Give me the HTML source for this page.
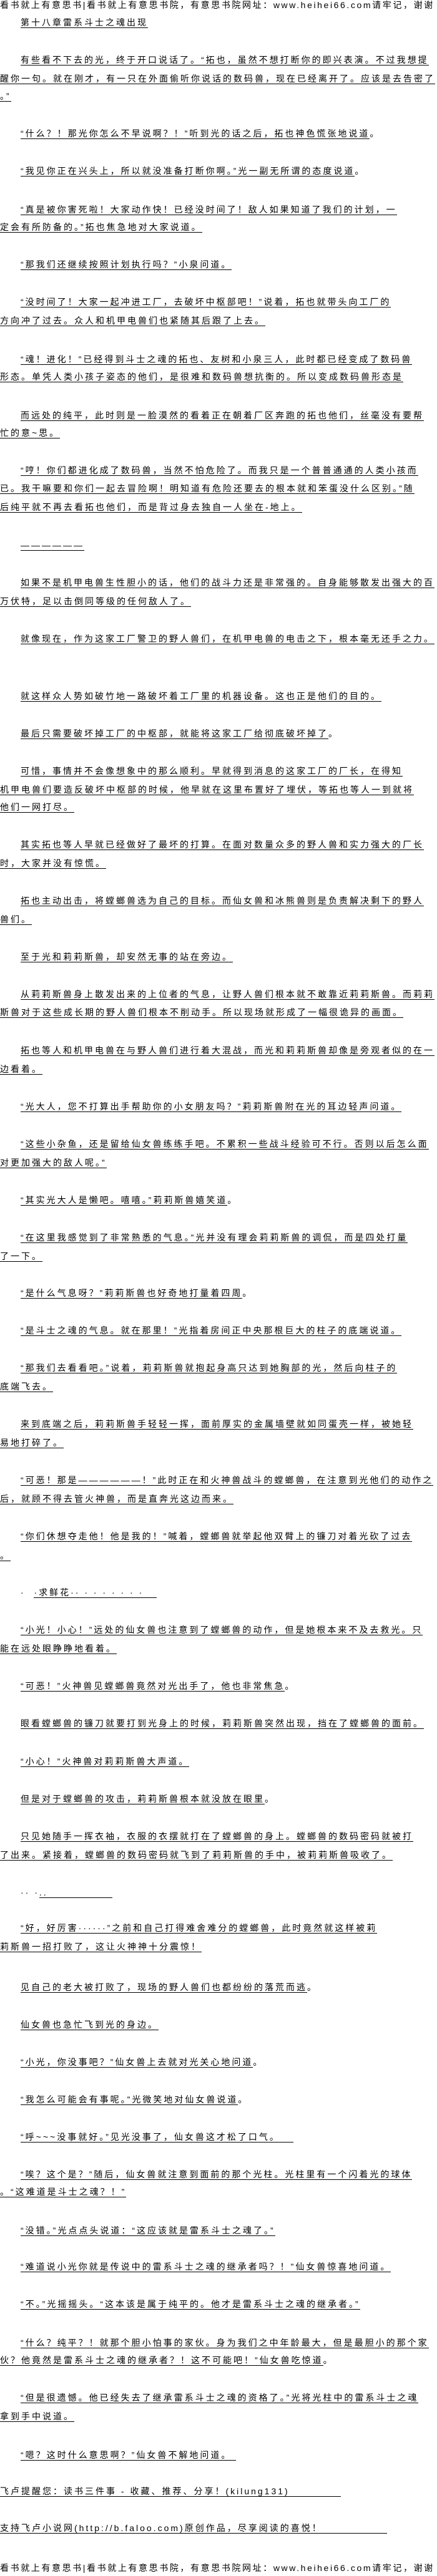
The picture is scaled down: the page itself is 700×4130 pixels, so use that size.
<!DOCTYPE html>
<html><head><meta charset="utf-8">
<style>
html,body{margin:0;padding:0;background:#fff;}
body{width:700px;height:4130px;position:relative;overflow:hidden;font-family:"Liberation Sans","Noto Sans CJK SC","WenQuanYi Zen Hei",sans-serif;color:#000;}
p{position:absolute;margin:0;white-space:nowrap;font-size:14px;letter-spacing:3px;line-height:15px;left:0;}
p span{border-bottom:1px solid #000;display:inline-block;line-height:15px;}
p.i{left:33px;}
.h{position:absolute;left:0;white-space:nowrap;font-size:14px;letter-spacing:2.6px;line-height:16px;}
</style></head><body>
<div class="h" style="top:0px">看书就上有意思书|看书就上有意思书院，有意思书院网址：www.heihei66.com请牢记，谢谢</div>
<p class="i" style="top:29px"><span>第十八章雷系斗士之魂出现</span></p>

<p class="i" style="top:89px"><span>有些看不下去的光，终于开口说话了。“拓也，虽然不想打断你的即兴表演。不过我想提</span></p>
<p style="top:119px"><span>醒你一句。就在刚才，有一只在外面偷听你说话的数码兽，现在已经离开了。应该是去告密了</span></p>
<p style="top:147px"><span>。”</span></p>

<p class="i" style="top:207px"><span>“什么？！那光你怎么不早说啊？！”听到光的话之后，拓也神色慌张地说道</span>。</p>
<p class="i" style="top:267px"><span>“我见你正在兴头上，所以就没准备打断你啊。”光一副无所谓的态度说道</span>。</p>

<p class="i" style="top:329px"><span>“真是被你害死啦！大家动作快！已经没时间了！敌人如果知道了我们的计划，一</span></p>
<p style="top:357px"><span>定会有所防备的。”拓也焦急地对大家说道。</span></p>
<p class="i" style="top:417px"><span>“那我们还继续按照计划执行吗？”小泉问道。</span></p>
<p class="i" style="top:477px"><span>“没时间了！大家一起冲进工厂，去破坏中枢部吧！”说着，拓也就带头向工厂的</span></p>
<p style="top:507px"><span>方向冲了过去。众人和机甲电兽们也紧随其后跟了上去。</span></p>
<p class="i" style="top:569px"><span>“魂！进化！”已经得到斗士之魂的拓也、友树和小泉三人，此时都已经变成了数码兽</span></p>
<p style="top:597px"><span>形态。单凭人类小孩子姿态的他们，是很难和数码兽想抗衡的。所以变成数码兽形态是</span></p>

<p class="i" style="top:659px"><span>而远处的纯平，此时则是一脸漠然的看着正在朝着厂区奔跑的拓也他们，丝毫没有要帮</span></p>
<p style="top:687px"><span>忙的意~思。</span></p>
<p class="i" style="top:747px"><span>“哼！你们都进化成了数码兽，当然不怕危险了。而我只是一个普普通通的人类小孩而</span></p>
<p style="top:776px"><span>已。我干嘛要和你们一起去冒险啊！明知道有危险还要去的根本就和笨蛋没什么区别。”随</span></p>
<p style="top:806px"><span>后纯平就不再去看拓也他们，而是背过身去独自一人坐在-地上。</span></p>
<p class="i" style="top:867px"><span>——————</span></p>
<p class="i" style="top:927px"><span>如果不是机甲电兽生性胆小的话，他们的战斗力还是非常强的。自身能够散发出强大的百</span></p>
<p style="top:957px"><span>万伏特，足以击倒同等级的任何敌人了。</span></p>

<p class="i" style="top:1017px"><span>就像现在，作为这家工厂警卫的野人兽们，在机甲电兽的电击之下，根本毫无还手之力。</span></p>
<p class="i" style="top:1109px"><span>就这样众人势如破竹地一路破坏着工厂里的机器设备。这也正是他们的目的。</span></p>
<p class="i" style="top:1169px"><span>最后只需要破坏掉工厂的中枢部，就能将这家工厂给彻底破坏掉了</span>。</p>
<p class="i" style="top:1229px"><span>可惜，事情并不会像想象中的那么顺利。早就得到消息的这家工厂的厂长，在得知</span></p>
<p style="top:1259px"><span>机甲电兽们要造反破坏中枢部的时候，他早就在这里布置好了埋伏，等拓也等人一到就将</span></p>
<p style="top:1287px"><span>他们一网打尽。</span></p>
<p class="i" style="top:1347px"><span>其实拓也等人早就已经做好了最坏的打算。在面对数量众多的野人兽和实力强大的厂长</span></p>
<p style="top:1377px"><span>时，大家并没有惊慌。</span></p>
<p class="i" style="top:1437px"><span>拓也主动出击，将螳螂兽选为自己的目标。而仙女兽和冰熊兽则是负责解决剩下的野人</span></p>
<p style="top:1467px"><span>兽们。</span></p>
<p class="i" style="top:1527px"><span>至于光和莉莉斯兽，却安然无事的站在旁边。</span></p>
<p class="i" style="top:1587px"><span>从莉莉斯兽身上散发出来的上位者的气息，让野人兽们根本就不敢靠近莉莉斯兽。而莉莉</span></p>
<p style="top:1616px"><span>斯兽对于这些成长期的野人兽们根本不削动手。所以现场就形成了一幅很诡异的画面。</span></p>
<p class="i" style="top:1677px"><span>拓也等人和机甲电兽在与野人兽们进行着大混战，而光和莉莉斯兽却像是旁观者似的在一</span></p>
<p style="top:1707px"><span>边看着。</span></p>

<p class="i" style="top:1767px"><span>“光大人，您不打算出手帮助你的小女朋友吗？”莉莉斯兽附在光的耳边轻声问道。</span></p>
<p class="i" style="top:1827px"><span>“这些小杂鱼，还是留给仙女兽练练手吧。不累积一些战斗经验可不行。否则以后怎么面</span></p>
<p style="top:1857px"><span>对更加强大的敌人呢。”</span></p>
<p class="i" style="top:1917px"><span>“其实光大人是懒吧。嘻嘻。”莉莉斯兽嬉笑道</span>。</p>
<p class="i" style="top:1977px"><span>“在这里我感觉到了非常熟悉的气息。”光并没有理会莉莉斯兽的调侃，而是四处打量</span></p>
<p style="top:2007px"><span>了一下。</span></p>
<p class="i" style="top:2066px"><span>“是什么气息呀？”莉莉斯兽也好奇地打量着四周</span>。</p>
<p class="i" style="top:2126px"><span>“是斗士之魂的气息。就在那里！”光指着房间正中央那根巨大的柱子的底端说道。</span></p>
<p class="i" style="top:2186px"><span>“那我们去看看吧。”说着，莉莉斯兽就抱起身高只达到她胸部的光，然后向柱子的</span></p>
<p style="top:2216px"><span>底端飞去。</span></p>
<p class="i" style="top:2276px"><span>来到底端之后，莉莉斯兽手轻轻一挥，面前厚实的金属墙壁就如同蛋壳一样，被她轻</span></p>
<p style="top:2306px"><span>易地打碎了。</span></p>
<p class="i" style="top:2366px"><span>“可恶！那是——————！”此时正在和火神兽战斗的螳螂兽，在注意到光他们的动作之</span></p>
<p style="top:2396px"><span>后，就顾不得去管火神兽，而是直奔光这边而来。</span></p>

<p class="i" style="top:2456px"><span>“你们休想夺走他！他是我的！”喊着，螳螂兽就举起他双臂上的镰刀对着光砍了过去</span></p>
<p style="top:2487px"><span>。</span></p>
<p class="i" style="top:2546px">·&nbsp;&nbsp;<span>·求鲜花··&nbsp;·&nbsp;·&nbsp;·&nbsp;·&nbsp;·&nbsp;·&nbsp;·&nbsp;&nbsp;&nbsp;</span></p>
<p class="i" style="top:2606px"><span>“小光！小心！”远处的仙女兽也注意到了螳螂兽的动作，但是她根本来不及去救光。只</span></p>
<p style="top:2636px"><span>能在远处眼睁睁地看着。</span></p>
<p class="i" style="top:2696px"><span>“可恶！”火神兽见螳螂兽竟然对光出手了，他也非常焦急</span>。</p>
<p class="i" style="top:2756px"><span>眼看螳螂兽的镰刀就要打到光身上的时候，莉莉斯兽突然出现，挡在了螳螂兽的面前。</span></p>
<p class="i" style="top:2817px"><span>“小心！”火神兽对莉莉斯兽大声道。</span></p>
<p class="i" style="top:2877px"><span>但是对于螳螂兽的攻击，莉莉斯兽根本就没放在眼里</span>。</p>
<p class="i" style="top:2937px"><span>只见她随手一挥衣袖，衣服的衣摆就打在了螳螂兽的身上。螳螂兽的数码密码就被打</span></p>
<p style="top:2967px"><span>了出来。紧接着，螳螂兽的数码密码就飞到了莉莉斯兽的手中，被莉莉斯兽吸收了。</span></p>
<p class="i" style="top:3027px">··&nbsp;·<span>..&nbsp;&nbsp;&nbsp;&nbsp;&nbsp;&nbsp;&nbsp;&nbsp;&nbsp;&nbsp;&nbsp;&nbsp;&nbsp;&nbsp;&nbsp;</span></p>
<p class="i" style="top:3084px"><span>“好，好厉害······”之前和自己打得难舍难分的螳螂兽，此时竟然就这样被莉</span></p>
<p style="top:3114px"><span>莉斯兽一招打败了，这让火神神十分震惊！</span></p>

<p class="i" style="top:3179px"><span>见自己的老大被打败了，现场的野人兽们也都纷纷的落荒而逃</span>。</p>
<p class="i" style="top:3239px"><span>仙女兽也急忙飞到光的身边。</span></p>
<p class="i" style="top:3299px"><span>“小光，你没事吧？”仙女兽上去就对光关心地问道</span>。</p>
<p class="i" style="top:3359px"><span>“我怎么可能会有事呢。”光微笑地对仙女兽说道</span>。</p>
<p class="i" style="top:3419px"><span>“呼~~~没事就好。”见光没事了，仙女兽这才松了口气。&nbsp;&nbsp;&nbsp;</span></p>
<p class="i" style="top:3479px"><span>“唉？这个是？”随后，仙女兽就注意到面前的那个光柱。光柱里有一个闪着光的球体</span></p>
<p style="top:3507px"><span>。“这难道是斗士之魂？！”</span></p>
<p class="i" style="top:3569px"><span>“没错。”光点点头说道：“这应该就是雷系斗士之魂了。”</span></p>
<p class="i" style="top:3627px"><span>“难道说小光你就是传说中的雷系斗士之魂的继承者吗？！”仙女兽惊喜地问道。</span></p>
<p class="i" style="top:3687px"><span>“不。”光摇摇头。“这本该是属于纯平的。他才是雷系斗士之魂的继承者。”</span></p>
<p class="i" style="top:3749px"><span>“什么？纯平？！就那个胆小怕事的家伙。身为我们之中年龄最大，但是最胆小的那个家</span></p>
<p style="top:3777px"><span>伙？他竟然是雷系斗士之魂的继承者？！这不可能吧！”仙女兽吃惊道</span>。</p>
<p class="i" style="top:3837px"><span>“但是很遗憾。他已经失去了继承雷系斗士之魂的资格了。”光将光柱中的雷系斗士之魂</span></p>
<p style="top:3867px"><span>拿到手中说道。</span></p>
<p class="i" style="top:3929px"><span>“嗯？这时什么意思啊？”仙女兽不解地问道。&nbsp;</span></p>

<p style="top:3987px"><span>飞卢提醒您：读书三件事 - 收藏、推荐、分享！(kilung131)&nbsp;&nbsp;&nbsp;&nbsp;&nbsp;&nbsp;&nbsp;&nbsp;&nbsp;&nbsp;&nbsp;&nbsp;</span></p>
<p style="top:4046px"><span>支持飞卢小说网(http://b.faloo.com)原创作品，尽享阅读的喜悦！&nbsp;&nbsp;&nbsp;&nbsp;&nbsp;&nbsp;&nbsp;&nbsp;&nbsp;&nbsp;&nbsp;&nbsp;&nbsp;&nbsp;&nbsp;</span></p>
<div class="h" style="top:4109px">看书就上有意思书|看书就上有意思书院，有意思书院网址：www.heihei66.com请牢记，谢谢</div>
</body></html>
